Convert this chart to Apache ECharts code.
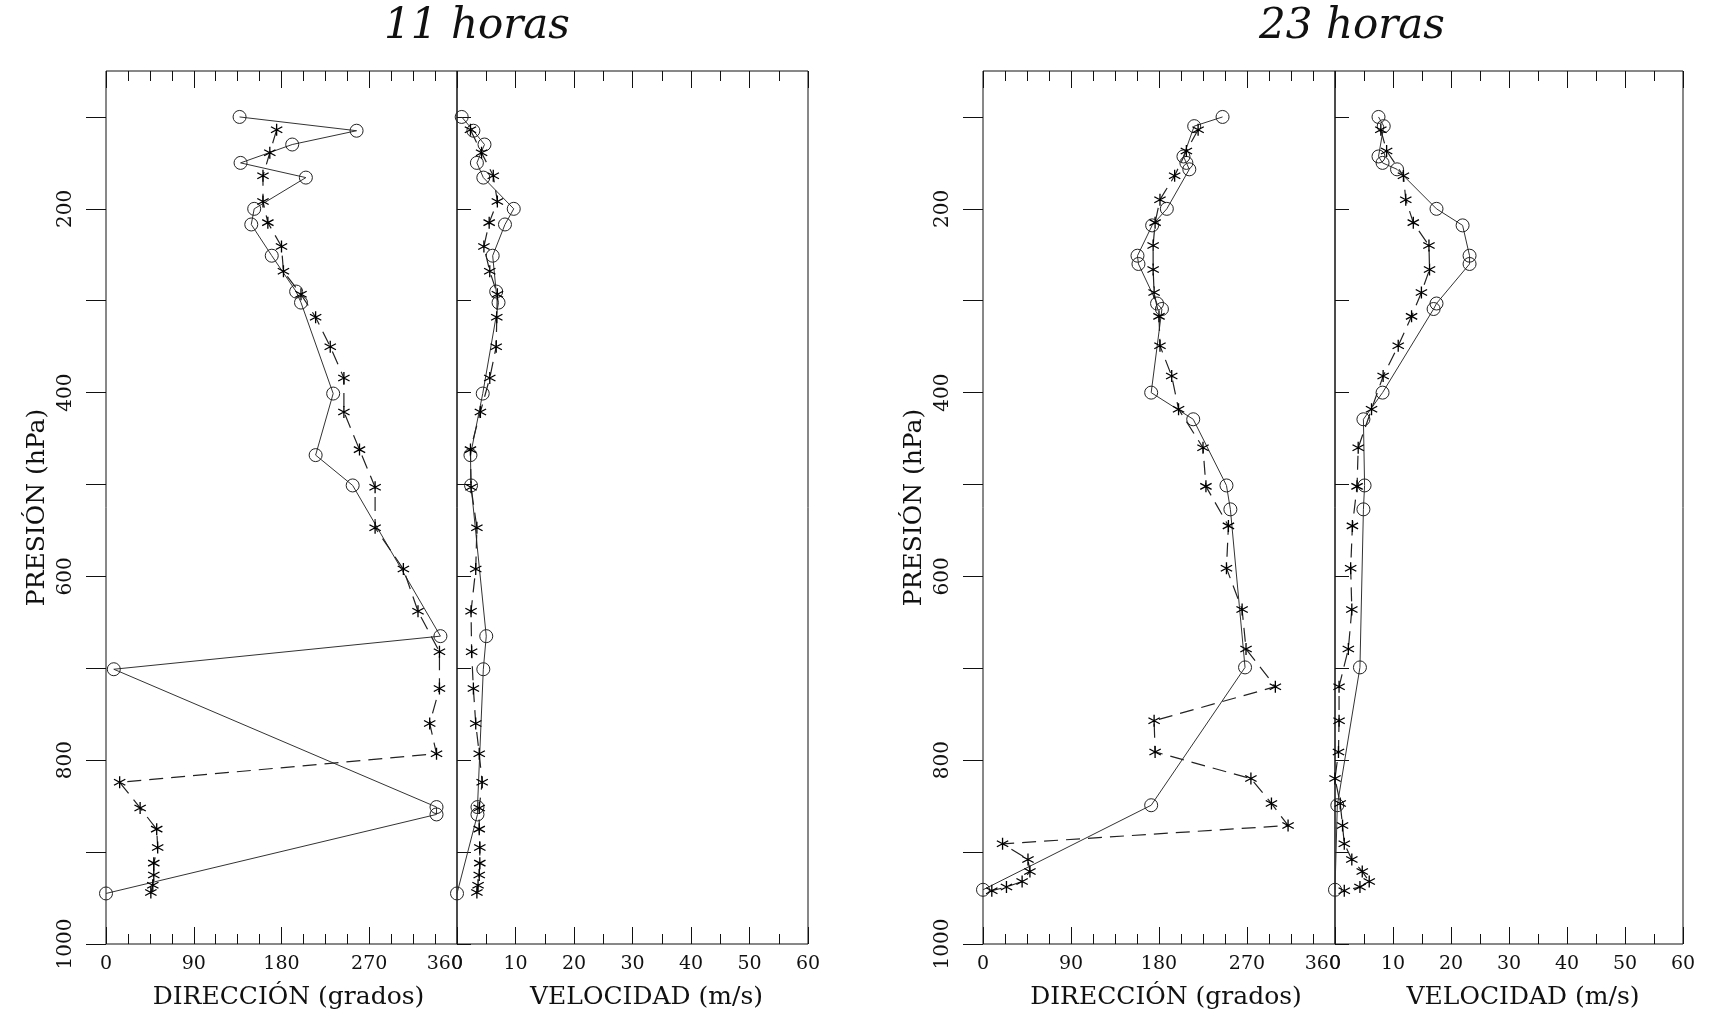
<!DOCTYPE html>
<html>
<head>
<meta charset="utf-8">
<script src="https://cdn.jsdelivr.net/npm/echarts@6/dist/echarts.min.js"></script>
<style>
  html, body { margin: 0; padding: 0; background: #fff; }
  #chart { width: 1710px; height: 1019px; }
</style>
</head>
<body>
<div id="chart"></div>
<script>
// ---- axis ticks and labels ----
const pressureTicks = [100, 200, 300, 400, 500, 600, 700, 800, 900, 1000];
const pressureLabels = [200, 400, 600, 800, 1000];
const panelTitles = ['11 horas', '23 horas'];

// ---- 11 horas: profile drawn with circles (solid line) ----
const p11Circle   = [100, 115, 130, 150, 166, 200, 217, 251, 290, 302, 401, 468, 501, 665, 701, 851, 859, 945];
const dir11Circle = [137, 257, 191, 138, 205, 152, 149, 170, 195, 200, 233, 215, 253, 343,   8, 339, 339,   0];
const spd11Circle = [0.8, 2.8, 4.7, 3.4, 4.5, 9.7, 8.2, 6.1, 6.7, 7.1, 4.4, 2.3, 2.4, 5.0, 4.5, 3.5, 3.5, 0];

// ---- 11 horas: profile drawn with asterisks (dashed line) ----
const p11Star   = [114, 139, 164, 192, 215, 241, 268, 293, 318, 350, 384, 421, 462, 503, 547, 592, 638, 682, 722, 760, 793, 824, 852, 875, 895, 912, 925, 936, 944];
const dir11Star = [175, 168, 161, 161, 166, 180, 182, 200, 215, 230, 244, 244, 260, 276, 276, 305, 320, 342, 342, 332, 339,  14,  35,  52,  53,  49,  49,  48,  46];
const spd11Star = [2.3, 4.2, 6.2, 6.9, 5.5, 4.6, 5.6, 6.9, 6.8, 6.7, 5.6, 4.0, 2.3, 2.4, 3.4, 3.2, 2.4, 2.5, 2.8, 3.2, 3.8, 4.3, 3.8, 3.8, 3.9, 3.9, 3.8, 3.6, 3.4];

// ---- 23 horas: profile drawn with circles (solid line) ----
const p23Circle   = [100, 110, 143, 150, 157, 200, 218, 251, 260, 303, 309, 400, 429, 501, 527, 699, 849, 941];
const dir23Circle = [245, 216, 205, 208, 211, 188, 173, 158, 159, 178, 183, 172, 215, 249, 253, 268, 172,   0];
const spd23Circle = [7.5, 8.4, 7.5, 8.2, 10.7, 17.5, 22.0, 23.2, 23.2, 17.5, 17.0, 8.2, 4.9, 5.1, 4.9, 4.3, 0.4, 0];

// ---- 23 horas: profile drawn with asterisks (dashed line) ----
const p23Star   = [114, 137, 164, 190, 215, 240, 266, 291, 317, 349, 382, 418, 460, 502, 545, 591, 636, 679, 720, 757, 791, 820, 847, 871, 891, 908, 921, 932, 938, 942];
const dir23Star = [220, 208, 196, 181, 176, 174, 174, 175, 180, 181, 193, 200, 225, 228, 251, 249, 265, 269, 299, 175, 176, 274, 295, 312,  20,  46,  48,  40,  24,   9];
const spd23Star = [7.9, 8.9, 11.8, 12.2, 13.5, 16.2, 16.3, 14.9, 13.2, 10.9, 8.3, 6.3, 4.0, 3.8, 3.0, 2.7, 2.9, 2.3, 0.7, 0.7, 0.6, 0.0, 0.9, 1.3, 1.6, 2.9, 4.7, 5.9, 4.3, 1.6];

const FONT = '"DejaVu Serif", "Liberation Serif", serif';
const INK = '#111';

// six-armed asterisk marker built from three bars
const ASTERISK = 'path://M9,0L11,0L11,20L9,20Z' +
  'M18.16,4.13L19.16,5.87L1.84,15.87L0.84,14.13Z' +
  'M0.84,5.87L1.84,4.13L19.16,14.13L18.16,15.87Z';

// panel rectangles: [left, width]
const TOP = 71, HEIGHT = 873;
const panels = [
  { left: 106,  width: 351, kind: 'dir' },
  { left: 457,  width: 351, kind: 'spd' },
  { left: 983,  width: 352, kind: 'dir' },
  { left: 1335, width: 348, kind: 'spd' }
];

const grids = panels.map(p => ({
  left: p.left, top: TOP, width: p.width, height: HEIGHT,
  show: true, borderColor: INK, borderWidth: 1, backgroundColor: 'transparent',
  containLabel: false
}));

const xAxes = [];
panels.forEach((p, i) => {
  const isDir = p.kind === 'dir';
  const base = {
    type: 'value', gridIndex: i,
    min: 0, max: isDir ? 360 : 60, interval: isDir ? 90 : 10,
    axisLine: { show: false },
    splitLine: { show: false },
    axisTick: { show: true, inside: true, length: 17, lineStyle: { color: INK, width: 1 } },
    minorTick: { show: true, splitNumber: isDir ? 4 : 2, length: 10, lineStyle: { color: INK, width: 1 } }
  };
  // bottom axis with labels and name
  xAxes.push(Object.assign({}, base, {
    position: 'bottom',
    name: isDir ? 'DIRECCIÓN (grados)' : 'VELOCIDAD (m/s)',
    nameLocation: 'middle', nameGap: 41,
    nameTextStyle: { fontFamily: FONT, fontSize: 25, color: INK, padding: isDir ? [0, 0, 0, 14] : [0, 0, 0, 28] },
    axisLabel: {
      show: true, margin: 11, fontFamily: FONT, fontSize: 19, color: INK,
      showMinLabel: true, showMaxLabel: true,
      // 360 is shifted so its last digit sits over the speed axis zero
      formatter: v => (isDir && v === 360) ? '360{h|00}' : String(v),
      rich: { h: { color: 'rgba(0,0,0,0)', fontFamily: FONT, fontSize: 19 } }
    }
  }));
  // top axis: ticks only
  xAxes.push(Object.assign({}, base, {
    position: 'top', axisLabel: { show: false }
  }));
});

const yAxes = panels.map((p, i) => {
  const isDir = p.kind === 'dir';
  return {
    type: 'value', gridIndex: i, inverse: true, min: 50, max: 1000,
    position: isDir ? 'left' : 'right',
    axisLine: { show: false },
    splitLine: { show: false },
    axisTick: {
      show: true, inside: false, length: isDir ? 20 : 14,
      customValues: pressureTicks, lineStyle: { color: INK, width: 1 }
    },
    axisLabel: isDir ? {
      show: true, rotate: 90, margin: 30, fontFamily: FONT, fontSize: 20, color: INK,
      customValues: pressureLabels,
      formatter: v => String(v)
    } : { show: false },
    name: isDir ? 'PRESIÓN (hPa)' : '',
    nameLocation: 'middle', nameRotate: 90, nameGap: 56,
    nameTextStyle: { fontFamily: FONT, fontSize: 25, color: INK }
  };
});

function zip(xs, ps) { return xs.map((x, k) => [x, ps[k]]); }

function circleSeries(xs, ps, idx) {
  return {
    type: 'line', xAxisIndex: idx * 2, yAxisIndex: idx,
    data: zip(xs, ps), showAllSymbol: true,
    symbol: 'circle', symbolSize: 13,
    itemStyle: { color: 'rgba(0,0,0,0)', borderColor: '#222', borderWidth: 1 },
    lineStyle: { color: '#333', width: 1, type: 'solid' },
    z: 3, silent: true
  };
}
function starSeries(xs, ps, idx) {
  return {
    type: 'line', xAxisIndex: idx * 2, yAxisIndex: idx,
    data: zip(xs, ps), showAllSymbol: true,
    symbol: ASTERISK, symbolSize: 12,
    itemStyle: { color: '#000' },
    lineStyle: { color: '#222', width: 1.2, type: [14, 8] },
    z: 4, silent: true
  };
}

const series = [
  circleSeries(dir11Circle, p11Circle, 0), starSeries(dir11Star, p11Star, 0),
  circleSeries(spd11Circle, p11Circle, 1), starSeries(spd11Star, p11Star, 1),
  circleSeries(dir23Circle, p23Circle, 2), starSeries(dir23Star, p23Star, 2),
  circleSeries(spd23Circle, p23Circle, 3), starSeries(spd23Star, p23Star, 3)
];

const titleStyle = { fontFamily: FONT, fontSize: 42, fontStyle: 'italic', fontWeight: 'normal', color: INK };
const option = {
  backgroundColor: '#fff',
  animation: false,
  title: [
    { text: panelTitles[0], left: 472, top: 1, textAlign: 'center', textStyle: titleStyle },
    { text: panelTitles[1], left: 1347, top: 1, textAlign: 'center', textStyle: titleStyle }
  ],
  grid: grids,
  xAxis: xAxes,
  yAxis: yAxes,
  series: series
};

const chart = echarts.init(document.getElementById('chart'), null, { renderer: 'canvas' });
chart.setOption(option);
</script>
</body>
</html>
